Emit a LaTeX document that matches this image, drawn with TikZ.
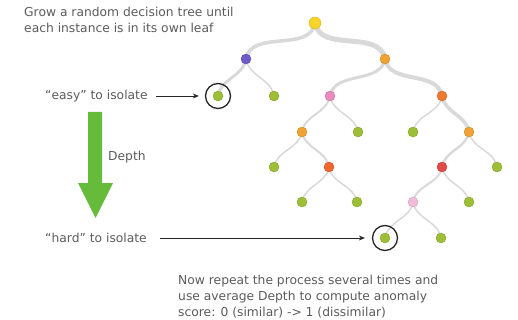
\documentclass[tikz,border=0pt]{standalone}
\usepackage{fontspec}
\setmainfont{DejaVu Sans}
\usetikzlibrary{arrows.meta,positioning,backgrounds}

\definecolor{textgray}{HTML}{5B5B5B}
\definecolor{branchgray}{HTML}{D9D9D9}
\definecolor{cyellow}{HTML}{F7D42A}
\definecolor{cpurple}{HTML}{6F5BC9}
\definecolor{corange}{HTML}{F0A235}
\definecolor{cpink}{HTML}{E98BBE}
\definecolor{cdeep}{HTML}{EE7A2E}
\definecolor{cred}{HTML}{E24A48}
\definecolor{crust}{HTML}{EE6630}
\definecolor{clight}{HTML}{F2BCD9}
\definecolor{cgreen}{HTML}{9DBE37}
\definecolor{depthgreen}{HTML}{66BB3A}

\begin{document}
\begin{tikzpicture}[
    x=1pt, y=-1pt,
    font=\fontsize{12.3}{16}\selectfont,
    vertex/.style={
        circle,
        inner sep=0pt,
        minimum size=10pt,
        fill=#1,
        draw=#1!85!black,
        line width=0.4pt
    },
    ring/.style={circle, draw=black!85, line width=1.3pt, minimum size=25pt, inner sep=0pt},
    caption/.style={text=textgray, inner sep=0pt, align=left},
    branch/.style={draw=branchgray, line cap=round, line width=#1},
    branch/.default=1.5pt,
    pointer/.style={-{Stealth[length=6pt,width=5pt]}, draw=black!85, line width=0.9pt}
]
    \useasboundingbox (0,0) rectangle (518,320);

    % --- TREE NODES ---
    \node[vertex=cyellow, minimum size=12pt] (root) at (315,23) {};

    % Depth 1
    \node[vertex=cpurple] (a) at (246,59) {};
    \node[vertex=corange] (b) at (385,59) {};

    % Depth 2
    \node[vertex=cgreen] (aa) at (218,96) {};
    \node[vertex=cgreen] (ab) at (274,96) {};
    \node[vertex=cpink]  (ba) at (330,96) {};
    \node[vertex=cdeep]  (bb) at (442,96) {};

    % Depth 3
    \node[vertex=corange] (baa) at (302,132) {};
    \node[vertex=cgreen]  (bab) at (358,132) {};
    \node[vertex=cgreen]  (bba) at (413,132) {};
    \node[vertex=corange] (bbb) at (469,132) {};

    % Depth 4
    \node[vertex=cgreen] (baaa) at (274,167) {};
    \node[vertex=crust]  (baab) at (329,167) {};
    \node[vertex=cred]   (bbba) at (442,167) {};
    \node[vertex=cgreen] (bbbb) at (497,167) {};

    % Depth 5
    \node[vertex=cgreen] (baaba) at (302,202) {};
    \node[vertex=cgreen] (baabb) at (357,202) {};
    \node[vertex=clight] (bbbaa) at (413,202) {};
    \node[vertex=cgreen] (bbbab) at (469,202) {};

    % Depth 6
    \node[vertex=cgreen] (bbbaaa) at (385,238) {};
    \node[vertex=cgreen] (bbbaab) at (441,238) {};

    % --- BRANCHES ---
    \begin{pgfonlayer}{background}
    \draw[branch=3.5pt] (root.center) to[out=-100,in=80] (a.center);
    \draw[branch=5pt]   (root.center) to[out=-80,in=100] (b.center);
    \draw[branch=3pt]   (a.center) to[out=-100,in=80] (aa.center);
    \draw[branch]       (a.center) to[out=-80,in=100] (ab.center);
    \draw[branch=3pt]   (b.center) to[out=-100,in=80] (ba.center);
    \draw[branch=4pt]   (b.center) to[out=-80,in=100] (bb.center);
    \draw[branch=2pt]   (ba.center) to[out=-100,in=80] (baa.center);
    \draw[branch]       (ba.center) to[out=-80,in=100] (bab.center);
    \draw[branch]       (bb.center) to[out=-100,in=80] (bba.center);
    \draw[branch=3.5pt] (bb.center) to[out=-80,in=100] (bbb.center);
    \draw[branch]       (baa.center) to[out=-100,in=80] (baaa.center);
    \draw[branch=2pt]   (baa.center) to[out=-80,in=100] (baab.center);
    \draw[branch]       (baab.center) to[out=-100,in=80] (baaba.center);
    \draw[branch]       (baab.center) to[out=-80,in=100] (baabb.center);
    \draw[branch=2.5pt] (bbb.center) to[out=-100,in=80] (bbba.center);
    \draw[branch]       (bbb.center) to[out=-80,in=100] (bbbb.center);
    \draw[branch=2pt]   (bbba.center) to[out=-100,in=80] (bbbaa.center);
    \draw[branch]       (bbba.center) to[out=-80,in=100] (bbbab.center);
    \draw[branch]       (bbbaa.center) to[out=-100,in=80] (bbbaaa.center);
    \draw[branch]       (bbbaa.center) to[out=-80,in=100] (bbbaab.center);
    \end{pgfonlayer}

    % --- ISOLATED LEAVES ---
    \node[ring] (easyring) at (aa) {};
    \node[ring] (hardring) at (bbbaaa) {};

    % --- TEXT ---
    \node[caption, anchor=north west] (grow) at (24,7)
        {Grow a random decision tree until\\each instance is in its own leaf};
    \node[caption, anchor=west] (easy) at (45,96) {“easy” to isolate};
    \node[caption, anchor=west] (hard) at (45,238) {“hard” to isolate};
    \node[caption, anchor=west] (depth) at (108,157) {Depth};
    \node[caption, anchor=north west] (repeat) at (178,275)
        {Now repeat the process several times and\\use average Depth to compute anomaly\\score: 0 (similar) -> 1 (dissimilar)};

    % Depth arrow
    \fill[depthgreen] (88,112) -- (102,112) -- (102,183) -- (113,183)
        -- (95.5,218) -- (78,183) -- (88,183) -- cycle;

    % --- POINTERS ---
    \draw[pointer, shorten <=8pt, shorten >=6pt] (easy.east) -- (easyring.west);
    \draw[pointer, shorten <=13pt, shorten >=7pt] (hard.east) -- (hardring.west);

\end{tikzpicture}
\end{document}
